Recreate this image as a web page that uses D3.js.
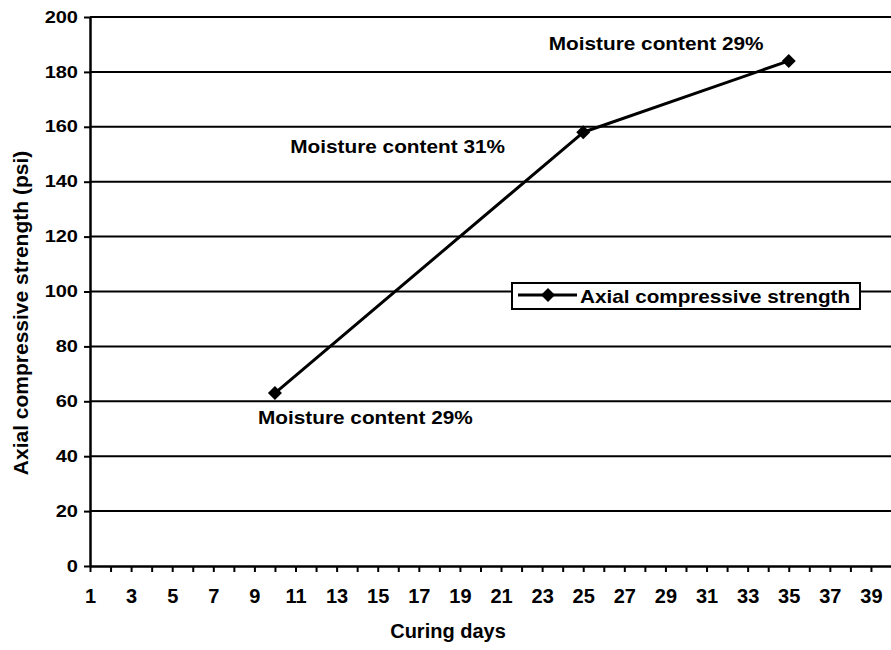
<!DOCTYPE html>
<html>
<head>
<meta charset="utf-8">
<script src="https://cdn.jsdelivr.net/npm/d3@7"></script>
<style>
  html, body { margin: 0; padding: 0; background: #fff; }
  svg { display: block; font-family: "Liberation Sans", Arial, sans-serif; font-weight: bold; }
</style>
</head>
<body>
<svg id="chart" width="891" height="650"></svg>
<script>
// ---- data ----
const days = [10, 25, 35];
const strength = [63, 158, 184];
const moistureLabels = ["Moisture content 29%", "Moisture content 31%", "Moisture content 29%"];
const yTicks = [0, 20, 40, 60, 80, 100, 120, 140, 160, 180, 200];
const xTicks = d3.range(1, 41);
const seriesName = "Axial compressive strength";
const xTitle = "Curing days";
const yTitle = "Axial compressive strength (psi)";

const svg = d3.select("#chart");
const plotLeft = 90, plotRight = 891.5, plotTop = 17, plotBottom = 566;

const x = d3.scaleLinear().domain([1, 40]).range([plotLeft, plotRight]);
const y = d3.scaleLinear().domain([0, 200]).range([plotBottom, plotTop]);

// gridlines
svg.append("g").selectAll("line").data(yTicks.filter(d => d > 0)).join("line")
  .attr("x1", plotLeft).attr("x2", 891)
  .attr("y1", d => y(d)).attr("y2", d => y(d))
  .attr("stroke", "#000").attr("stroke-width", 2);

// y axis
const yAxis = svg.append("g").attr("transform", `translate(${plotLeft},0)`)
  .call(d3.axisLeft(y).tickValues(yTicks).tickSize(6).tickSizeOuter(0));
yAxis.select(".domain").attr("stroke-width", 2.5);
yAxis.selectAll(".tick line").attr("stroke-width", 2);
yAxis.selectAll(".tick text")
  .attr("x", 0)
  .attr("transform", "translate(-12,0) scale(1.25,1)")
  .attr("font-size", 16).attr("font-family", "Liberation Sans").attr("font-weight", "bold")
  .attr("fill", "#000");

// x axis
const xAxis = svg.append("g").attr("transform", `translate(0,${plotBottom})`)
  .call(d3.axisBottom(x).tickValues(xTicks).tickSize(6).tickSizeOuter(0)
    .tickFormat(d => d % 2 ? d : ""));
xAxis.select(".domain").attr("stroke-width", 2.5);
xAxis.selectAll(".tick line").attr("stroke-width", 2);
xAxis.selectAll(".tick text")
  .attr("y", 37).attr("dy", 0)
  .attr("font-size", 20).attr("font-family", "Liberation Sans").attr("font-weight", "bold")
  .attr("fill", "#000");

// axis titles
svg.append("text")
  .attr("x", 448).attr("y", 638)
  .attr("text-anchor", "middle").attr("font-size", 20)
  .text(xTitle);
svg.append("text")
  .attr("transform", `translate(28,313) rotate(-90)`)
  .attr("text-anchor", "middle").attr("font-size", 21)
  .text(yTitle);

// series line
const pts = days.map((d, i) => [x(d), y(strength[i])]);
svg.append("path")
  .attr("d", d3.line()(pts))
  .attr("fill", "none").attr("stroke", "#000").attr("stroke-width", 3)
  .attr("stroke-linejoin", "round");

const diamond = "M0,-7L7,0L0,7L-7,0Z";
svg.append("g").selectAll("path").data(pts).join("path")
  .attr("d", diamond)
  .attr("transform", d => `translate(${d[0]},${d[1]})`)
  .attr("fill", "#000");

// annotations (offsets from their points)
const annOffsets = [[-17, 31], [-293, 21], [-240, -11]];
svg.append("g").selectAll("text").data(moistureLabels).join("text")
  .attr("transform", (d, i) => `translate(${pts[i][0] + annOffsets[i][0]},${pts[i][1] + annOffsets[i][1]}) scale(1.155,1)`)
  .attr("font-size", 18)
  .text(d => d);

// legend
const lg = svg.append("g").attr("transform", "translate(512,283)");
lg.append("rect").attr("width", 348).attr("height", 26)
  .attr("fill", "#fff").attr("stroke", "#000").attr("stroke-width", 2);
lg.append("line").attr("x1", 6).attr("x2", 65).attr("y1", 12).attr("y2", 12)
  .attr("stroke", "#000").attr("stroke-width", 3);
lg.append("path").attr("d", diamond).attr("transform", "translate(36,12)").attr("fill", "#000");
lg.append("text").attr("transform", "translate(68,20) scale(1.15,1)")
  .attr("font-size", 18).text(seriesName);
</script>
</body>
</html>
